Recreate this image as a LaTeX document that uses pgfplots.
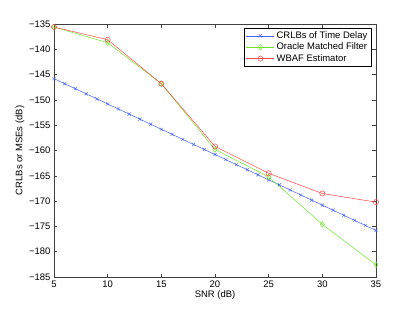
\documentclass[border=0pt]{standalone}
\usepackage{pgfplots}
\pgfplotsset{compat=1.18}
\usepackage{fontspec}
\setmainfont{Liberation Sans}
\definecolor{cblue}{RGB}{70,100,245}
\definecolor{cgreen}{RGB}{110,230,40}
\definecolor{cred}{RGB}{250,70,70}
\begin{document}
\begin{tikzpicture}[x=1bp,y=1bp]
\begin{axis}[
  at={(0,0)}, anchor=south west,
  scale only axis, width=322bp, height=253bp,
  xmin=5, xmax=35, ymin=-185, ymax=-135,
  xtick={5,10,...,35}, ytick={-185,-180,...,-135},
  yticklabels={−185,−180,−175,−170,−165,−160,−155,−150,−145,−140,−135},
  tick align=inside, tick pos=both,
  major tick length=3.5bp,
  axis line style={black!75, line width=0.6pt},
  every tick/.style={black!75, line width=0.5pt},
  tick label style={font=\fontsize{9.5}{10}\selectfont},
  /pgf/number format/assume math mode=true,
  label style={font=\fontsize{9.5}{10}\selectfont},
  xlabel={SNR (dB)}, ylabel={CRLBs or MSEs (dB)},
  xlabel style={yshift=3bp},
  ylabel style={yshift=-2bp},
  legend style={at={(1,1)}, anchor=north east, xshift=-5bp, yshift=-4bp,
    font=\fontsize{9.5}{10}\selectfont,
    draw=black, line width=0.5pt, inner sep=1.5pt, row sep=-1pt},
  legend image code/.code={
    \draw[mark repeat=2,mark phase=2,#1] plot coordinates {(0bp,0bp) (14bp,0bp) (28bp,0bp)};},
  legend cell align=left,
]
\addplot[cblue, line width=0.5pt, mark=x, mark size=2.2bp, mark options={line width=0.45pt}] coordinates {
(5,-145.8)(6,-146.8)(7,-147.8)(8,-148.8)(9,-149.8)(10,-150.8)(11,-151.8)(12,-152.8)(13,-153.8)(14,-154.8)
(15,-155.8)(16,-156.8)(17,-157.8)(18,-158.8)(19,-159.8)(20,-160.8)(21,-161.8)(22,-162.8)(23,-163.8)(24,-164.8)
(25,-165.8)(26,-166.8)(27,-167.8)(28,-168.8)(29,-169.8)(30,-170.8)(31,-171.8)(32,-172.8)(33,-173.8)(34,-174.8)(35,-175.8)};
\addlegendentry{CRLBs of Time Delay}
\addplot[cgreen, line width=0.5pt, mark=diamond, mark size=2.8bp, mark options={line width=0.5pt}] coordinates {
(5,-135.6)(10,-138.7)(15,-146.8)(20,-159.8)(25,-165.2)(30,-174.6)(35,-182.6)};
\addlegendentry{Oracle Matched Filter}
\addplot[cred, line width=0.5pt, mark=o, mark size=2.6bp, mark options={line width=0.5pt}] coordinates {
(5,-135.6)(10,-138.1)(15,-146.8)(20,-159.2)(25,-164.5)(30,-168.5)(35,-170.2)};
\addlegendentry{WBAF Estimator}
\end{axis}
\useasboundingbox (-54,-36) rectangle (361,277);
\end{tikzpicture}
\end{document}
